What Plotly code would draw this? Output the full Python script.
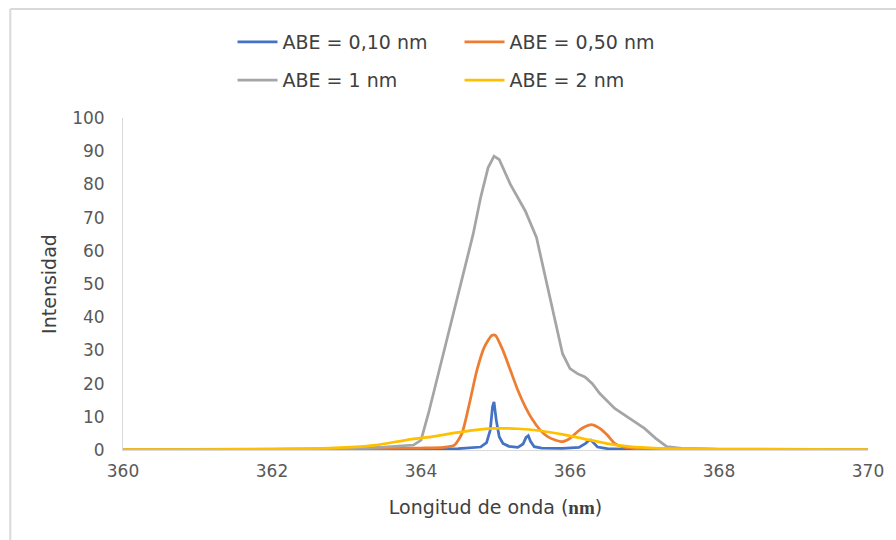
import plotly.graph_objects as go

# Emission spectra at four slit widths (ABE)
wl_010 = [360, 362, 363, 364, 364.5, 364.8, 364.88, 364.93, 364.96, 364.98, 365.01, 365.05,
          365.1, 365.18, 365.3, 365.37, 365.41, 365.44, 365.47, 365.52, 365.62, 365.9,
          366.12, 366.21, 366.25, 366.28, 366.31, 366.37, 366.5, 366.8, 367.5, 370]
int_010 = [0.1, 0.1, 0.15, 0.2, 0.4, 0.9, 2.2, 6.0, 13.0, 14.5, 9.0, 4.0,
           2.0, 1.1, 0.8, 1.8, 3.8, 4.3, 2.6, 1.0, 0.6, 0.5,
           0.8, 2.0, 2.8, 3.0, 2.3, 0.9, 0.4, 0.2, 0.1, 0.05]

wl_050 = [360, 362, 363, 363.5, 364, 364.3, 364.45, 364.55, 364.65, 364.75, 364.85, 364.95,
          365.0, 365.1, 365.2, 365.3, 365.4, 365.5, 365.6, 365.7, 365.8, 365.9, 366.0,
          366.1, 366.2, 366.3, 366.4, 366.5, 366.6, 366.7, 366.85, 367.5, 368, 370]
int_050 = [0.1, 0.2, 0.3, 0.5, 0.6, 0.8, 1.5, 5.0, 14.0, 24.0, 31.0, 34.5,
           34.5, 30.0, 24.0, 18.0, 13.0, 9.0, 6.0, 4.0, 3.0, 2.5, 3.5,
           5.5, 7.0, 7.6, 6.5, 4.5, 2.0, 1.0, 0.5, 0.3, 0.2, 0.1]

wl_1 = [360, 362, 362.5, 363, 363.5, 363.9, 364.0, 364.1, 364.2, 364.3, 364.4, 364.5,
        364.6, 364.7, 364.8, 364.9, 364.98, 365.05, 365.2, 365.4, 365.55, 365.7, 365.8,
        365.9, 366.0, 366.1, 366.2, 366.3, 366.4, 366.6, 366.8, 367.0, 367.15, 367.3,
        367.5, 368, 370]
int_1 = [0.1, 0.2, 0.3, 0.5, 0.9, 1.5, 3.0, 11.0, 20.0, 29.0, 38.0, 47.0,
         56.0, 65.0, 76.0, 85.0, 88.5, 87.5, 80.0, 72.0, 64.0, 49.0, 38.0,
         29.0, 24.5, 23.0, 22.0, 20.0, 17.0, 12.5, 9.5, 6.5, 3.5, 1.0,
         0.5, 0.3, 0.1]

wl_2 = [360, 361, 362, 362.5, 363, 363.4, 363.8, 364.2, 364.5, 364.8, 365.0, 365.3,
        365.6, 365.9, 366.2, 366.5, 366.8, 367.2, 367.6, 368, 370]
int_2 = [0.1, 0.15, 0.25, 0.4, 0.8, 1.5, 3.0, 4.2, 5.3, 6.2, 6.5, 6.4,
         5.8, 4.7, 3.3, 1.9, 1.0, 0.5, 0.3, 0.2, 0.1]

series_names = ["ABE = 0,10 nm", "ABE = 0,50 nm", "ABE = 1 nm", "ABE = 2 nm"]
x_ticks = [360, 362, 364, 366, 368, 370]
y_ticks = [0, 10, 20, 30, 40, 50, 60, 70, 80, 90, 100]

FONT = "DejaVu Sans"
colors = ["#4472C4", "#ED7D31", "#A5A5A5", "#FFC000"]

fig = go.Figure()
specs = [(wl_010, int_010, "linear", "legend"),
         (wl_050, int_050, "spline", "legend"),
         (wl_1, int_1, "linear", "legend2"),
         (wl_2, int_2, "spline", "legend2")]
for (xs, ys, shape, leg), name, col in zip(specs, series_names, colors):
    fig.add_trace(go.Scatter(
        x=xs, y=ys, mode="lines", name=name, legend=leg,
        line=dict(color=col, width=2.75, shape=shape,
                  smoothing=0.6 if shape == "spline" else None),
    ))

legend_common = dict(
    orientation="h", xanchor="left", yanchor="middle",
    font=dict(family=FONT, size=19, color="#404040"),
    bgcolor="rgba(0,0,0,0)", entrywidth=172, entrywidthmode="pixels",
    itemwidth=40, tracegroupgap=0,
)

fig.update_layout(
    width=896, height=540,
    margin=dict(l=123, r=26, t=118, b=90),
    paper_bgcolor="white", plot_bgcolor="white",
    font=dict(family=FONT, color="#595959"),
    showlegend=True,
    legend=dict(x=0.147, y=1.229, **legend_common),
    legend2=dict(x=0.147, y=1.114, **legend_common),
    xaxis=dict(
        range=[360, 370], tickvals=x_ticks, ticktext=[str(v) for v in x_ticks],
        showgrid=False, zeroline=False, showline=True, linecolor="#D9D9D9", linewidth=1,
        ticks="", ticklabelstandoff=6,
        tickfont=dict(family=FONT, size=17, color="#595959"),
        title=dict(text="Longitud de onda (<span style=\"font-family:'Liberation Serif';font-weight:bold\">nm</span>)",
                   font=dict(family=FONT, size=19, color="#404040"), standoff=20),
    ),
    yaxis=dict(
        range=[0, 100], tickvals=y_ticks, ticktext=[str(v) for v in y_ticks],
        showgrid=False, zeroline=False, showline=True, linecolor="#D9D9D9", linewidth=1,
        ticks="", ticklabelstandoff=14,
        tickfont=dict(family=FONT, size=17, color="#595959"),
        title=dict(text="Intensidad", font=dict(family=FONT, size=19, color="#404040"),
                   standoff=10),
    ),
    shapes=[
        dict(type="line", xref="paper", yref="paper", x0=-0.1513, x1=-0.1513,
             y0=-0.30, y1=1.328, line=dict(color="#D9D9D9", width=2)),
        dict(type="line", xref="paper", yref="paper", x0=-0.1513, x1=1.04,
             y0=1.328, y1=1.328, line=dict(color="#D9D9D9", width=2)),
    ],
)

fig.write_html("out.html")
